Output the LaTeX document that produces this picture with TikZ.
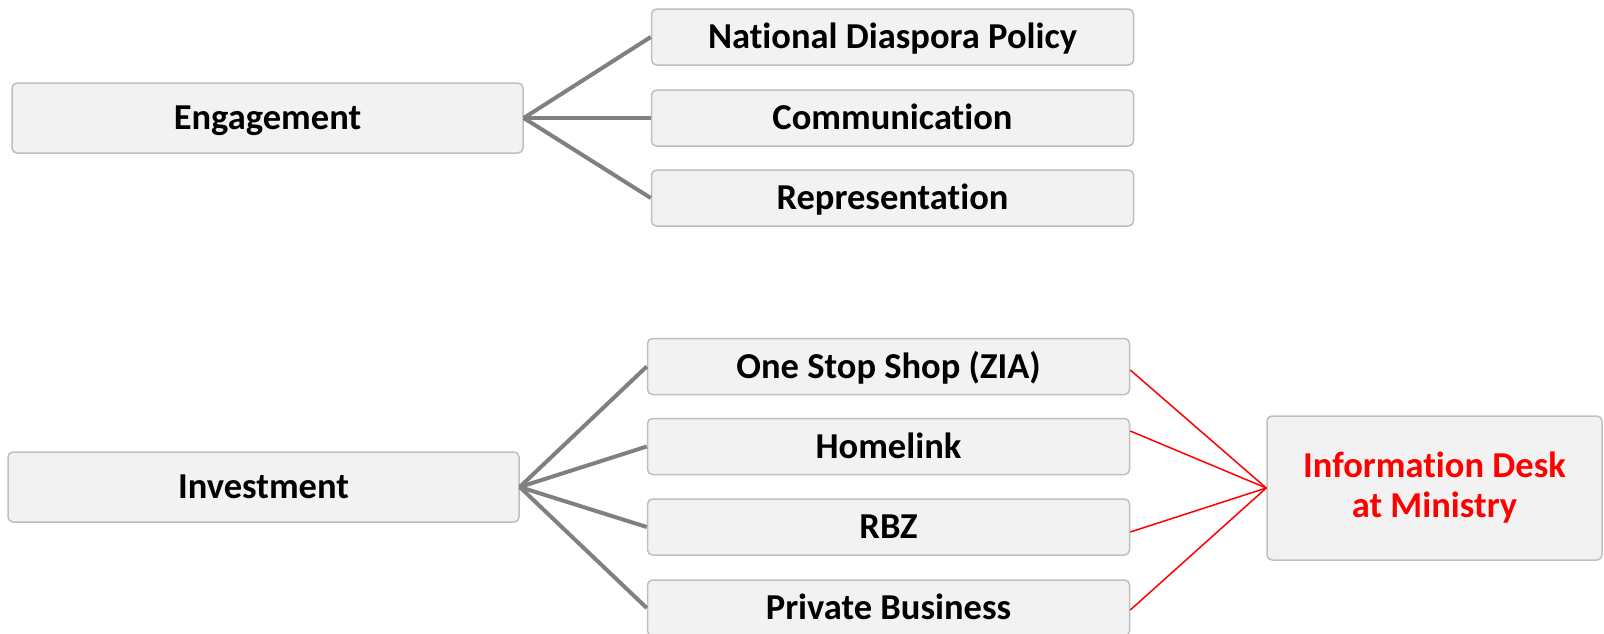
\documentclass[tikz,border=0pt]{standalone}
\usepackage{fontspec}
\setmainfont[Ligatures=NoCommon]{Carlito}
\usetikzlibrary{calc}
\definecolor{boxfill}{HTML}{F2F2F2}
\definecolor{boxline}{HTML}{BFBFBF}
\definecolor{conngray}{HTML}{808080}
\definecolor{infored}{HTML}{FF0000}
\tikzset{
  box/.style={draw=boxline, fill=boxfill, line width=1.5pt, rounded corners=5pt,
    font=\bfseries\fontsize{36.5}{40}\selectfont, inner sep=0pt, anchor=center,
    text height=23.5pt, text depth=0pt},
  mainbox/.style={box, minimum width=511pt, minimum height=70pt},
  subbox/.style={box, minimum width=482pt, minimum height=56pt},
  infobox/.style={box, minimum width=335pt, minimum height=144pt, text=infored,
    align=center, text height=, text depth=},
  grayconn/.style={draw=conngray, line width=4pt},
  redconn/.style={draw=infored, line width=1.5pt},
}
\begin{document}
\begin{tikzpicture}[x=1pt,y=-1pt]
\useasboundingbox (0,0) rectangle (1604,633);
% top group
\node[mainbox] (eng) at (267.5,118) {Engagement};
\node[subbox] (ndp) at (892.5,37) {National Diaspora Policy};
\node[subbox] (com) at (892.5,118) {Communication};
\node[subbox] (rep) at (892.5,198) {Representation};
% bottom group
\node[mainbox] (inv) at (263.5,487) {Investment};
\node[subbox] (oss) at (888.5,366.5) {One Stop Shop (ZIA)};
\node[subbox] (hl) at (888.5,446.5) {Homelink};
\node[subbox] (rbz) at (888.5,527) {RBZ};
\node[subbox] (pb) at (888.5,608) {Private Business};
\node[infobox] (info) at (1434.5,488) {Information Desk\\at Ministry};
% gray connectors
\draw[grayconn] (eng.east) -- (ndp.west);
\draw[grayconn] (eng.east) -- (com.west);
\draw[grayconn] (eng.east) -- (rep.west);
\draw[grayconn] (inv.east) -- (oss.west);
\draw[grayconn] (inv.east) -- (hl.west);
\draw[grayconn] (inv.east) -- (rbz.west);
\draw[grayconn] (inv.east) -- (pb.west);
% red connectors
\draw[redconn] ([yshift=-3.5pt]oss.east) -- (info.west);
\draw[redconn] ([yshift=15.5pt]hl.east) -- (info.west);
\draw[redconn] ([yshift=-5pt]rbz.east) -- (info.west);
\draw[redconn] ([yshift=-2pt]pb.east) -- (info.west);
\end{tikzpicture}
\end{document}
